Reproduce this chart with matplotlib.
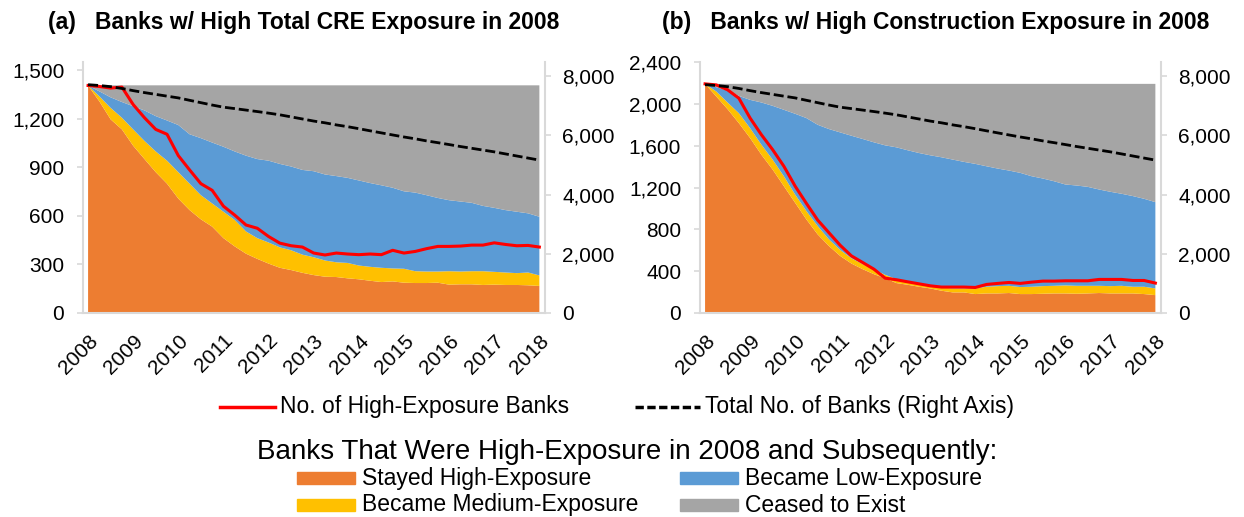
import numpy as np
import matplotlib
matplotlib.use("Agg")
import matplotlib.pyplot as plt
from matplotlib.lines import Line2D
from matplotlib.patches import Rectangle
from matplotlib.ticker import FuncFormatter

# --- Data (quarterly, 2008Q1 .. 2018Q1) ---
YEARS = [str(y) for y in range(2008, 2019)]

# total number of banks (right axis), same in both panels
total_banks = [7707, 7680, 7640, 7580,
               7506, 7440, 7380, 7320,
               7261, 7180, 7100, 7020,
               6948, 6900, 6850, 6800,
               6747, 6690, 6620, 6550,
               6479, 6420, 6350, 6290,
               6222, 6150, 6080, 6010,
               5942, 5880, 5810, 5750,
               5686, 5620, 5560, 5500,
               5440, 5370, 5300, 5230,
               5161]

# panel (a): banks with high total CRE exposure in 2008
cre_start = 1405
cre_stayed = [1404, 1306, 1195, 1133, 1032, 950, 869, 798, 706, 635,
              578, 533, 462, 411, 366, 334, 305, 279, 265, 248,
              234, 224, 222, 214, 208, 199, 191, 195, 187, 185,
              185, 187, 175, 177, 177, 173, 175, 173, 173, 171, 167]
cre_upto_medium = [1404, 1337, 1266, 1205, 1133, 1062, 997, 940, 869, 798,
                   727, 676, 625, 574, 503, 462, 435, 405, 387, 360,
                   344, 324, 313, 309, 293, 285, 279, 275, 273, 258,
                   256, 256, 258, 256, 258, 258, 254, 250, 246, 250, 232]
cre_upto_low = [1404, 1368, 1331, 1302, 1276, 1250, 1215, 1188, 1160, 1103,
                1079, 1052, 1026, 997, 971, 950, 940, 920, 904, 883,
                875, 855, 845, 834, 818, 802, 788, 773, 751, 743,
                727, 710, 696, 688, 680, 661, 649, 635, 625, 615, 594]
cre_high_now = [1404, 1398, 1388, 1394, 1286, 1205, 1133, 1103, 971, 883,
                798, 757, 659, 604, 543, 523, 472, 431, 415, 407,
                370, 358, 370, 364, 360, 364, 360, 387, 370, 380,
                397, 411, 411, 413, 419, 419, 433, 423, 415, 417, 407]

# panel (b): banks with high construction exposure in 2008
con_start = 2191
con_stayed = [2191, 2070, 1949, 1816, 1673, 1514, 1372, 1213, 1054, 895,
              752, 641, 546, 473, 419, 371, 333, 286, 270, 251,
              235, 213, 197, 197, 181, 187, 187, 191, 181, 181,
              184, 187, 187, 184, 187, 191, 187, 187, 187, 181, 171]
con_upto_medium = [2191, 2118, 2013, 1911, 1768, 1610, 1467, 1308, 1133, 975,
                   832, 705, 603, 524, 467, 419, 365, 324, 298, 279,
                   260, 244, 235, 235, 235, 251, 257, 260, 248, 251,
                   257, 260, 264, 260, 260, 260, 257, 260, 251, 251, 235]
con_upto_low = [2191, 2159, 2127, 2076, 2038, 2013, 1981, 1943, 1905, 1864,
                1800, 1759, 1727, 1695, 1664, 1632, 1603, 1584, 1556, 1530,
                1508, 1489, 1467, 1445, 1426, 1403, 1381, 1362, 1340, 1308,
                1286, 1260, 1229, 1219, 1206, 1181, 1159, 1140, 1118, 1092, 1060]
con_high_now = [2191, 2181, 2134, 2054, 1864, 1705, 1562, 1403, 1213, 1048,
                889, 768, 648, 546, 483, 419, 333, 318, 298, 279,
                260, 248, 248, 248, 244, 273, 283, 292, 283, 295,
                305, 305, 308, 308, 308, 321, 321, 321, 311, 311, 286]

# --- Style ---
ORANGE = "#ED7D31"
YELLOW = "#FFC000"
BLUE = "#5B9BD5"
GRAY = "#A5A5A5"
RED = "#FF0000"
SPINE = "#D9D9D9"
W, H = 1244, 517

plt.rcParams["font.family"] = ["Liberation Sans", "DejaVu Sans"]

fmt = FuncFormatter(lambda v, p: f"{int(v):,}")


def box(left, top, right, bottom):
    return [left / W, 1 - bottom / H, (right - left) / W, (bottom - top) / H]


def draw_panel(rect, stayed, upto_medium, upto_low, start, high_now, ymax, yticks):
    ax = fig.add_axes(rect)
    x = np.arange(len(stayed))
    stayed = np.array(stayed)
    upto_medium = np.array(upto_medium)
    upto_low = np.array(upto_low)
    layers = [stayed, upto_medium - stayed, upto_low - upto_medium, start - upto_low]
    ax.stackplot(x, layers, colors=[ORANGE, YELLOW, BLUE, GRAY], linewidth=0)
    ax.plot(x, high_now, color=RED, lw=2.2, zorder=5)
    ax.set_xlim(-0.45, 40.5)
    ax.set_ylim(0, ymax)
    ax.set_yticks(yticks)
    ax.yaxis.set_major_formatter(fmt)
    ax.set_xticks(range(0, 41, 4))
    ax.set_xticklabels(YEARS, rotation=45, ha="right", va="top",
                       rotation_mode="anchor")
    ax.tick_params(axis="x", length=0, pad=13, labelsize=15)
    ax.tick_params(axis="y", length=4.5, width=1.2, color=SPINE, pad=9, labelsize=15)
    for s in ["top", "right"]:
        ax.spines[s].set_visible(False)
    for s in ["left", "bottom"]:
        ax.spines[s].set_color(SPINE)
        ax.spines[s].set_linewidth(1.5)

    ax2 = ax.twinx()
    ax2.plot(x, total_banks, color="black", lw=2, ls=(0, (3.6, 1.4)))
    ax2.set_ylim(0, 8473)
    ax2.set_yticks(range(0, 8001, 2000))
    ax2.yaxis.set_major_formatter(fmt)
    ax2.tick_params(axis="y", length=4.5, width=1.2, color=SPINE, pad=8, labelsize=15)
    for s in ["top", "left", "bottom"]:
        ax2.spines[s].set_visible(False)
    ax2.spines["right"].set_color(SPINE)
    ax2.spines["right"].set_linewidth(1.5)
    return ax


fig = plt.figure(figsize=(W / 100, H / 100), dpi=100)

draw_panel(box(83, 62, 545, 313), cre_stayed, cre_upto_medium, cre_upto_low,
           cre_start, cre_high_now, 1549, range(0, 1501, 300))
draw_panel(box(700, 62, 1161, 313), con_stayed, con_upto_medium, con_upto_low,
           con_start, con_high_now, 2400, range(0, 2401, 400))

fig.text(48 / W, 1 - 23 / H, "(a)   Banks w/ High Total CRE Exposure in 2008",
         weight="bold", fontsize=16.5, va="center")
fig.text(662 / W, 1 - 23 / H, "(b)   Banks w/ High Construction Exposure in 2008",
         weight="bold", fontsize=16.5, va="center")

# --- Legend ---
def px(x, y):
    return x / W, 1 - y / H


def legend_line(x0, x1, y, label, **kw):
    (a, b), (c, d) = px(x0, y), px(x1, y)
    fig.add_artist(Line2D([a, c], [b, b], **kw))
    fig.text(*px(x1 + 5, y), label, fontsize=16.5, va="center")


def legend_patch(x0, y, color, label):
    fx, fy = px(x0, y + 6)
    fig.add_artist(Rectangle((fx, fy), 58 / W, 12 / H, color=color,
                             transform=fig.transFigure))
    fig.text(*px(x0 + 65, y), label, fontsize=16.5, va="center")


legend_line(220, 275, 407, "No. of High-Exposure Banks", color=RED, lw=2.5)
legend_line(635, 700, 407, "Total No. of Banks (Right Axis)", color="black",
            lw=2.5, ls=(0, (2.4, 1.0)))
fig.text(*px(627, 452), "Banks That Were High-Exposure in 2008 and Subsequently:",
         fontsize=20, ha="center", va="center")
legend_patch(297, 478, ORANGE, "Stayed High-Exposure")
legend_patch(680, 478, BLUE, "Became Low-Exposure")
legend_patch(297, 505, YELLOW, "Became Medium-Exposure")
legend_patch(680, 505, GRAY, "Ceased to Exist")

fig.savefig("out.png", dpi=100)
